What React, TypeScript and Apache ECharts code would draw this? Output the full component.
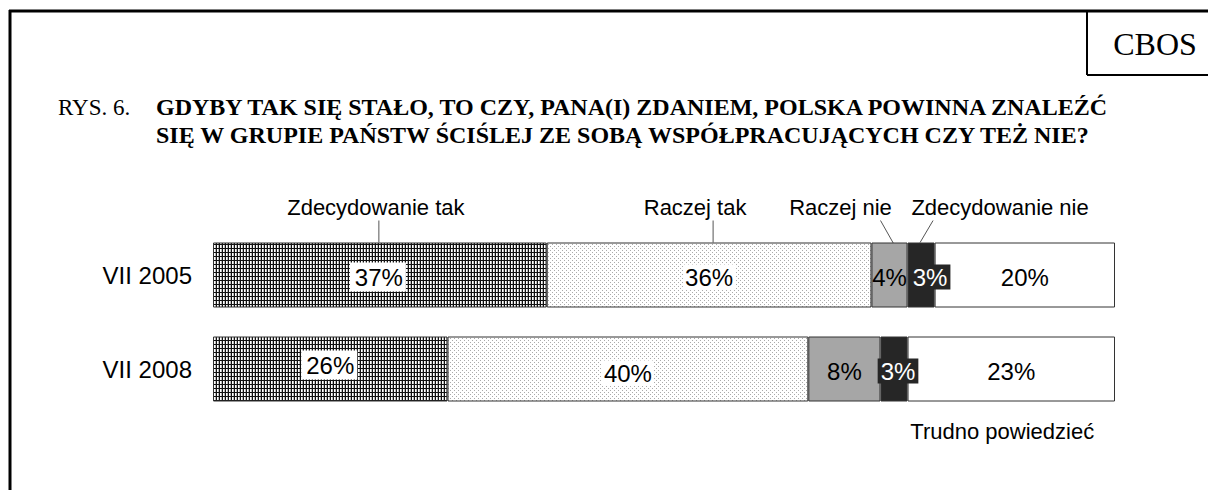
import React, { useEffect, useRef } from "react";
import * as echarts from "echarts";

// ---- data ----
const categories = ["VII 2005", "VII 2008"];
const seriesNames = ["Zdecydowanie tak", "Raczej tak", "Raczej nie", "Zdecydowanie nie", "Trudno powiedzieć"];
const zdecydowanieTak = [37, 26];
const raczejTak = [36, 40];
const raczejNie = [4, 8];
const zdecydowanieNie = [3, 3];
const trudnoPowiedziec = [20, 23];
const titlePrefix = "RYS. 6.";
const titleLines = [
  "GDYBY TAK SIĘ STAŁO, TO CZY, PANA(I) ZDANIEM, POLSKA POWINNA ZNALEŹĆ",
  "SIĘ W GRUPIE PAŃSTW ŚCIŚLEJ ZE SOBĄ WSPÓŁPRACUJĄCYCH CZY TEŻ NIE?",
];
const brand = "CBOS";

// ---- styles / annotation placement (not data) ----
const labelOffsets: number[][][] = [
  [[-2, 2], [-1, -4]],
  [[0, 2], [0, 4]],
  [[0, 2], [0, 2]],
  [[9, 2], [4, 2]],
  [[0, 2], [0, 2]],
];
// series index, row, text dx from segment centre, text dy from bar edge, line (dx1, dy1, dx2, dy2) relative to centre / edge
const annotations = [
  { s: 0, row: 0, tdx: -4, tdy: -35, line: [-1, -22, -1, 0] },
  { s: 1, row: 0, tdx: -14, tdy: -35, line: [4, -22, 4, 0] },
  { s: 2, row: 0, tdx: -49, tdy: -35, line: [-9, -22, 4, 1] },
  { s: 3, row: 0, tdx: 79, tdy: -35, line: [12, -22, -1, 0] },
  { s: 4, row: 1, tdx: -9, tdy: 30, line: null as null | number[] },
];

function makePattern(w: number, h: number, draw: (ctx: CanvasRenderingContext2D) => void) {
  const c = document.createElement("canvas");
  c.width = w;
  c.height = h;
  const ctx = c.getContext("2d")!;
  draw(ctx);
  return c;
}

export default function App() {
  const ref = useRef<HTMLDivElement>(null);
  useEffect(() => {
    document.body.style.margin = "0";
    const chart = echarts.init(ref.current!, undefined, { renderer: "svg" });

    const hatch = makePattern(3, 4, (ctx) => {
      ctx.fillStyle = "#ffffff";
      ctx.fillRect(0, 0, 3, 4);
      ctx.fillStyle = "#111111";
      ctx.fillRect(0, 0, 1, 4);
      ctx.fillRect(0, 0, 3, 1);
      ctx.fillStyle = "#bbbbbb";
      ctx.fillRect(2, 1, 1, 3);
    });
    const dots = makePattern(4, 4, (ctx) => {
      ctx.fillStyle = "#ffffff";
      ctx.fillRect(0, 0, 4, 4);
      ctx.fillStyle = "#aaaaaa";
      ctx.fillRect(0, 0, 1, 1);
      ctx.fillRect(2, 2, 1, 1);
    });

    const values = [zdecydowanieTak, raczejTak, raczejNie, zdecydowanieNie, trudnoPowiedziec];
    const colors: any[] = [
      { image: hatch, repeat: "repeat" },
      { image: dots, repeat: "repeat" },
      "#a6a6a6",
      "#262626",
      "#ffffff",
    ];
    const labelStyles: any[] = [
      { color: "#000", backgroundColor: "#fff", padding: [3, 3, 2, 5] },
      { color: "#000", backgroundColor: "#fff", padding: [1, 2, 0, 2] },
      { color: "#000" },
      { color: "#fff", backgroundColor: "#262626", padding: [1, 3, 0, 3] },
      { color: "#000" },
    ];
    const font = "Liberation Sans, Arial, sans-serif";

    const series = values.map((vals, si) => ({
      type: "bar",
      name: seriesNames[si],
      stack: "total",
      barWidth: 65,
      itemStyle: { color: colors[si], borderColor: "#333", borderWidth: 1 },
      data: vals.map((v, ri) => ({
        value: v,
        label: { offset: labelOffsets[si][ri] },
      })),
      label: {
        show: true,
        position: "inside",
        formatter: "{c}%",
        fontFamily: font,
        fontSize: 24,
        ...labelStyles[si],
      },
    }));

    chart.setOption({
      animation: false,
      grid: { left: 213, right: 93, top: 228, bottom: 74, containLabel: false },
      xAxis: { type: "value", min: 0, max: 100, show: false },
      yAxis: {
        type: "category",
        data: categories,
        inverse: true,
        axisLine: { show: false },
        axisTick: { show: false },
        axisLabel: { fontFamily: font, fontSize: 24, color: "#000", margin: 21 },
      },
      series,
    });

    const serif = "'Liberation Serif', 'Times New Roman', serif";
    const graphics: any[] = [
      { type: "line", shape: { x1: 10, y1: 10, x2: 10, y2: 490 }, style: { stroke: "#000", lineWidth: 3 } },
      { type: "line", shape: { x1: 9, y1: 11, x2: 1208, y2: 11 }, style: { stroke: "#000", lineWidth: 3 } },
      { type: "line", shape: { x1: 1087, y1: 11, x2: 1087, y2: 75 }, style: { stroke: "#000", lineWidth: 2 } },
      { type: "line", shape: { x1: 1087, y1: 75, x2: 1208, y2: 75 }, style: { stroke: "#000", lineWidth: 2 } },
      {
        type: "text", x: 1155, y: 44,
        style: { text: brand, font: `32px ${serif}`, fill: "#000", textAlign: "center", textVerticalAlign: "middle" },
      },
      {
        type: "text", x: 58, y: 107,
        style: { text: titlePrefix, font: `23px ${serif}`, fill: "#000", textAlign: "left", textVerticalAlign: "middle" },
      },
      ...titleLines.map((t, i) => ({
        type: "text", x: 156, y: 107 + i * 28,
        style: { text: t, font: `bold 24px ${serif}`, fill: "#000", textAlign: "left", textVerticalAlign: "middle" },
      })),
    ];

    const halfBar = 32.5;
    annotations.forEach((a) => {
      let start = 0;
      for (let k = 0; k < a.s; k++) start += values[k][a.row];
      const mid = start + values[a.s][a.row] / 2;
      const p = chart.convertToPixel({ gridIndex: 0 }, [mid, categories[a.row]]) as number[];
      const edge = a.tdy < 0 ? p[1] - halfBar : p[1] + halfBar;
      graphics.push({
        type: "text", x: p[0] + a.tdx, y: edge + a.tdy,
        style: { text: seriesNames[a.s], font: `22px ${font}`, fill: "#000", textAlign: "center", textVerticalAlign: "middle" },
      });
      if (a.line) {
        graphics.push({
          type: "line",
          shape: { x1: p[0] + a.line[0], y1: edge + a.line[1], x2: p[0] + a.line[2], y2: edge + a.line[3] },
          style: { stroke: "#555", lineWidth: 1 },
        });
      }
    });

    chart.setOption({ graphic: graphics });
    return () => chart.dispose();
  }, []);
  return <div ref={ref} style={{ width: 1208, height: 490 }} />;
}
